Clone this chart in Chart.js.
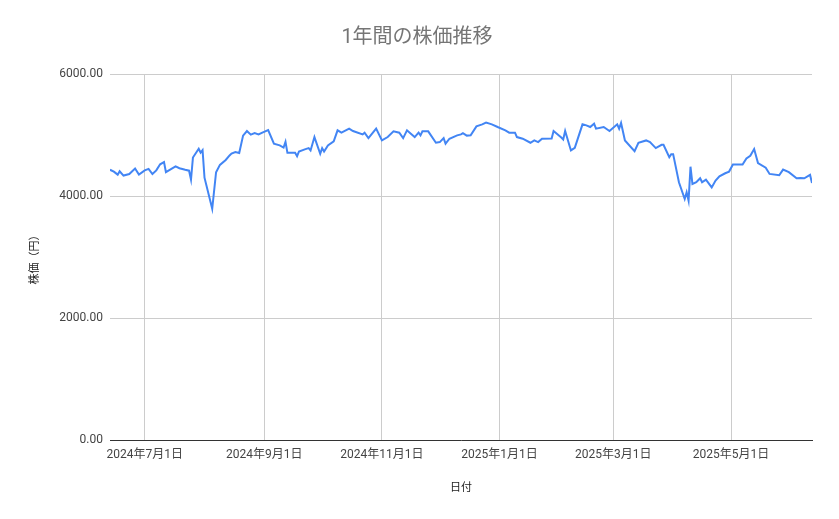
<!DOCTYPE html>
<html lang="ja">
<head>
<meta charset="utf-8">
<title>1年間の株価推移</title>
<script src="https://cdn.jsdelivr.net/npm/chart.js@4.4.1/dist/chart.umd.min.js"></script>
<style>
  html, body { margin: 0; padding: 0; background: #fff; }
  canvas { display: block; }
</style>
</head>
<body>
<canvas id="line" width="839" height="519"></canvas>
<script>
const startDate = "2024-06-13";
const endDate = "2025-06-12";

const dates = [
  "2024-06-13", "2024-06-15", "2024-06-17", "2024-06-18", "2024-06-20", "2024-06-23",
  "2024-06-26", "2024-06-28", "2024-07-01", "2024-07-03", "2024-07-05", "2024-07-07",
  "2024-07-09", "2024-07-11", "2024-07-12", "2024-07-17", "2024-07-19", "2024-07-22",
  "2024-07-24", "2024-07-25", "2024-07-26", "2024-07-29", "2024-07-30", "2024-07-31",
  "2024-08-01", "2024-08-05", "2024-08-07", "2024-08-09", "2024-08-12", "2024-08-14",
  "2024-08-15", "2024-08-17", "2024-08-19", "2024-08-21", "2024-08-23", "2024-08-25",
  "2024-08-27", "2024-08-29", "2024-08-31", "2024-09-03", "2024-09-06", "2024-09-09",
  "2024-09-11", "2024-09-12", "2024-09-13", "2024-09-17", "2024-09-18", "2024-09-19",
  "2024-09-22", "2024-09-24", "2024-09-25", "2024-09-27", "2024-09-30", "2024-10-01",
  "2024-10-02", "2024-10-04", "2024-10-07", "2024-10-09", "2024-10-11", "2024-10-15",
  "2024-10-17", "2024-10-22", "2024-10-23", "2024-10-25", "2024-10-29", "2024-11-01",
  "2024-11-04", "2024-11-07", "2024-11-10", "2024-11-12", "2024-11-14", "2024-11-16",
  "2024-11-18", "2024-11-20", "2024-11-21", "2024-11-22", "2024-11-25", "2024-11-29",
  "2024-12-01", "2024-12-03", "2024-12-04", "2024-12-06", "2024-12-10", "2024-12-12",
  "2024-12-13", "2024-12-15", "2024-12-17", "2024-12-20", "2024-12-23", "2024-12-25",
  "2024-12-28", "2024-12-31", "2025-01-04", "2025-01-06", "2025-01-09", "2025-01-10",
  "2025-01-13", "2025-01-17", "2025-01-19", "2025-01-21", "2025-01-23", "2025-01-28",
  "2025-01-29", "2025-02-02", "2025-02-03", "2025-02-04", "2025-02-07", "2025-02-09",
  "2025-02-13", "2025-02-15", "2025-02-17", "2025-02-19", "2025-02-20", "2025-02-24",
  "2025-02-27", "2025-03-03", "2025-03-04", "2025-03-05", "2025-03-07", "2025-03-12",
  "2025-03-14", "2025-03-18", "2025-03-20", "2025-03-23", "2025-03-26", "2025-03-27",
  "2025-03-30", "2025-03-31", "2025-04-01", "2025-04-04", "2025-04-07", "2025-04-08",
  "2025-04-09", "2025-04-10", "2025-04-11", "2025-04-13", "2025-04-15", "2025-04-16",
  "2025-04-18", "2025-04-21", "2025-04-23", "2025-04-25", "2025-04-28", "2025-04-30",
  "2025-05-02", "2025-05-07", "2025-05-09", "2025-05-11", "2025-05-13", "2025-05-15",
  "2025-05-19", "2025-05-21", "2025-05-26", "2025-05-28", "2025-05-31", "2025-06-04",
  "2025-06-06", "2025-06-08", "2025-06-11", "2025-06-12"
];

const prices = [
  4430, 4400, 4350, 4405, 4335, 4360,
  4450, 4350, 4420, 4445, 4360, 4420,
  4520, 4555, 4390, 4485, 4455, 4430,
  4415, 4270, 4630, 4775, 4710, 4750,
  4300, 3790, 4390, 4510, 4590, 4665,
  4695, 4720, 4705, 4990, 5065, 5005,
  5030, 5010, 5040, 5080, 4857, 4830,
  4795, 4890, 4708, 4708, 4653, 4730,
  4765, 4785, 4747, 4966, 4692, 4785,
  4730, 4829, 4895, 5076, 5038, 5104,
  5065, 5010, 5038, 4949, 5104, 4911,
  4966, 5060, 5038, 4949, 5076, 5021,
  4966, 5038, 4994, 5060, 5060, 4873,
  4884, 4949, 4857, 4939, 4994, 5010,
  5030, 4990, 4994, 5142, 5175, 5203,
  5175, 5131, 5076, 5038, 5038, 4966,
  4939, 4873, 4911, 4884, 4939, 4944,
  5065, 4960, 4928, 5065, 4747, 4790,
  5175, 5158, 5131, 5186, 5104, 5131,
  5065, 5175, 5104, 5197, 4911, 4736,
  4873, 4911, 4884, 4785, 4840, 4840,
  4636, 4686, 4686, 4225, 3950, 4060,
  3922, 4480, 4197, 4225, 4290, 4225,
  4268, 4141, 4252, 4323, 4373, 4400,
  4516, 4516, 4615, 4660, 4770, 4540,
  4465, 4362, 4340, 4433, 4390, 4290,
  4295, 4290, 4346, 4214
];

const tickDates = ["2024-07-01", "2024-09-01", "2024-11-01", "2025-01-01", "2025-03-01", "2025-05-01"];
const yTicks = [0, 2000, 4000, 6000];

const DAY = 86400000;
const startMs = Date.parse(startDate);
const toDay = (d) => Math.round((Date.parse(d) - startMs) / DAY);
const fmtDate = (v) => {
  const d = new Date(startMs + v * DAY);
  return d.getUTCFullYear() + "年" + (d.getUTCMonth() + 1) + "月" + d.getUTCDate() + "日";
};

const FONT = "Roboto, 'Noto Sans CJK JP', sans-serif";

const ctx = document.getElementById("line").getContext("2d");
const data = {
  datasets: [
    {
      label: "株価",
      data: dates.map((d, i) => ({ x: toDay(d), y: prices[i] })),
      borderColor: "#4285f4",
      borderWidth: 2,
      pointRadius: 0,
      tension: 0,
    },
  ],
};

const config = {
  type: "line",
  data: data,
  options: {
    responsive: false,
    animation: false,
    layout: { padding: { top: 26, left: 22, right: 27, bottom: 15 } },
    plugins: {
      legend: { display: false },
      tooltip: { enabled: false },
      title: {
        display: true,
        text: "1年間の株価推移",
        color: "#757575",
        font: { family: FONT, size: 20, weight: "normal" },
        padding: { top: 0, bottom: 24 },
      },
    },
    scales: {
      x: {
        type: "linear",
        min: 0,
        max: toDay(endDate),
        afterBuildTicks: (scale) => {
          scale.ticks = tickDates.map((d) => ({ value: toDay(d) }));
        },
        afterFit: (scale) => { scale.height = 64; },
        grid: { color: "#cccccc", drawTicks: false },
        border: { display: true, color: "#333333", width: 1 },
        ticks: {
          color: "#444444",
          padding: 8,
          maxRotation: 0,
          autoSkip: false,
          font: { family: FONT, size: 12 },
          callback: (v) => fmtDate(v),
        },
        title: {
          display: true,
          text: "日付",
          color: "#222222",
          font: { family: FONT, size: 11 },
          padding: { top: 0, bottom: 9 },
        },
      },
      y: {
        min: 0,
        max: 6000,
        afterBuildTicks: (scale) => {
          scale.ticks = yTicks.map((v) => ({ value: v }));
        },
        afterFit: (scale) => { scale.width = 88; },
        grid: { color: "#cccccc", drawTicks: false },
        border: { display: false },
        ticks: {
          color: "#444444",
          padding: 7,
          font: { family: FONT, size: 12 },
          callback: (v) => v.toFixed(2),
        },
        title: {
          display: true,
          text: "株価（円）",
          color: "#222222",
          font: { family: FONT, size: 11 },
          padding: { top: 7, bottom: 0 },
        },
      },
    },
  },
};

new Chart(ctx, config);
</script>
</body>
</html>
